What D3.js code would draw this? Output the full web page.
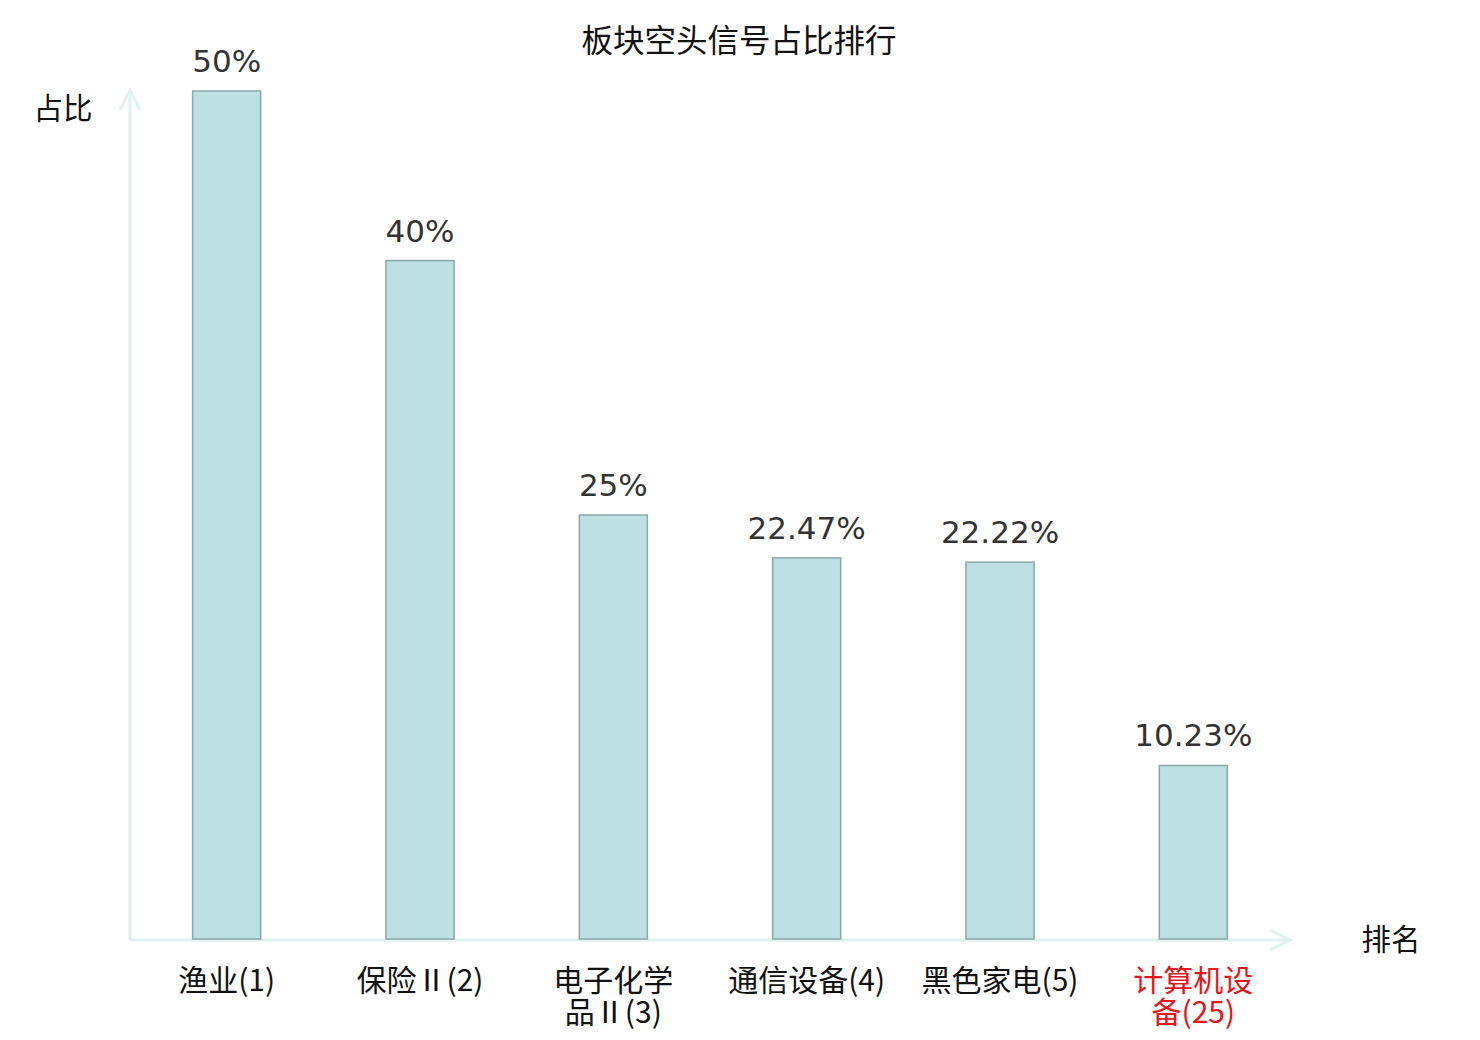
<!DOCTYPE html>
<html>
<head>
    <meta charset="utf-8">
    <title>板块空头信号占比排行</title>
    <script src="https://cdnjs.cloudflare.com/ajax/libs/d3/7.8.5/d3.min.js"></script>
    <style>
        body {
            margin: 0;
            background: #fff;
        }
        text {
            font-family: "Noto Sans CJK SC", "DejaVu Sans", sans-serif;
        }
        .value {
            font-family: "DejaVu Sans", sans-serif;
        }
    </style>
</head>
<body>
    <div id="chart"></div>

    <script>
        // chart data
        const categories = ["渔业(1)", "保险Ⅱ(2)", "电子化学品Ⅱ(3)", "通信设备(4)", "黑色家电(5)", "计算机设备(25)"];
        const values = [50, 40, 25, 22.47, 22.22, 10.23];
        const valueLabels = ["50%", "40%", "25%", "22.47%", "22.22%", "10.23%"];
        const highlight = [false, false, false, false, false, true];

        const width = 1480, height = 1040;
        const origin = {x: 130, y: 940};
        const axisEnd = {x: 1290, y: 90};

        const svg = d3.select("#chart")
            .append("svg")
            .attr("width", width)
            .attr("height", height);

        // scales
        const x = d3.scaleBand()
            .domain(categories)
            .range([130, 1290])
            .paddingInner(0.648)
            .paddingOuter(0.324);

        const y = d3.scaleLinear()
            .domain([0, 50])
            .range([939, 91]);

        // title
        svg.append("text")
            .attr("x", 739)
            .attr("y", 43)
            .attr("text-anchor", "middle")
            .attr("dominant-baseline", "middle")
            .attr("font-size", 31.5)
            .attr("fill", "#111")
            .text("板块空头信号占比排行");

        // axes with arrows
        const axisColor = "#dff2ef";
        svg.append("line")
            .attr("x1", origin.x).attr("y1", origin.y)
            .attr("x2", origin.x).attr("y2", axisEnd.y)
            .attr("stroke", axisColor).attr("stroke-width", 3);
        svg.append("path")
            .attr("d", `M${origin.x - 10},${axisEnd.y + 20} L${origin.x},${axisEnd.y} L${origin.x + 10},${axisEnd.y + 20}`)
            .attr("fill", "none").attr("stroke", axisColor).attr("stroke-width", 3);

        svg.append("line")
            .attr("x1", origin.x).attr("y1", origin.y)
            .attr("x2", axisEnd.x).attr("y2", origin.y)
            .attr("stroke", axisColor).attr("stroke-width", 3);
        svg.append("path")
            .attr("d", `M${axisEnd.x - 20},${origin.y - 10} L${axisEnd.x},${origin.y} L${axisEnd.x - 20},${origin.y + 10}`)
            .attr("fill", "none").attr("stroke", axisColor).attr("stroke-width", 3);

        // axis names
        svg.append("text")
            .attr("x", 63).attr("y", 111)
            .attr("text-anchor", "middle")
            .attr("dominant-baseline", "middle")
            .attr("font-size", 29.5)
            .attr("fill", "#111")
            .text("占比");

        svg.append("text")
            .attr("x", 1391).attr("y", 942)
            .attr("text-anchor", "middle")
            .attr("dominant-baseline", "middle")
            .attr("font-size", 29.5)
            .attr("fill", "#111")
            .text("排名");

        // bars
        svg.selectAll("rect.bar")
            .data(values)
            .enter()
            .append("rect")
            .attr("class", "bar")
            .attr("x", (d, i) => x(categories[i]))
            .attr("y", d => y(d))
            .attr("width", x.bandwidth())
            .attr("height", d => y(0) - y(d))
            .attr("fill", "#bce0e3")
            .attr("stroke", "#8da6a7")
            .attr("stroke-width", 1.5);

        // value labels
        svg.selectAll("text.value")
            .data(values)
            .enter()
            .append("text")
            .attr("class", "value")
            .attr("x", (d, i) => x(categories[i]) + x.bandwidth() / 2)
            .attr("y", d => y(d) - 19)
            .attr("text-anchor", "middle")
            .attr("font-size", 31)
            .attr("fill", "#333")
            .text((d, i) => valueLabels[i]);

        // category labels, long names wrap after four characters
        categories.forEach((d, i) => {
            const lines = d.length > 7 ? [d.slice(0, 4), d.slice(4)] : [d];
            lines.forEach((line, k) => {
                svg.append("text")
                    .attr("class", "cat")
                    .attr("x", x(d) + x.bandwidth() / 2)
                    .attr("y", 983 + k * 32)
                    .attr("text-anchor", "middle")
                    .attr("dominant-baseline", "middle")
                    .attr("font-size", 30)
                    .attr("fill", highlight[i] ? "#e8141c" : "#111")
                    .text(line);
            });
        });
    </script>
</body>
</html>
